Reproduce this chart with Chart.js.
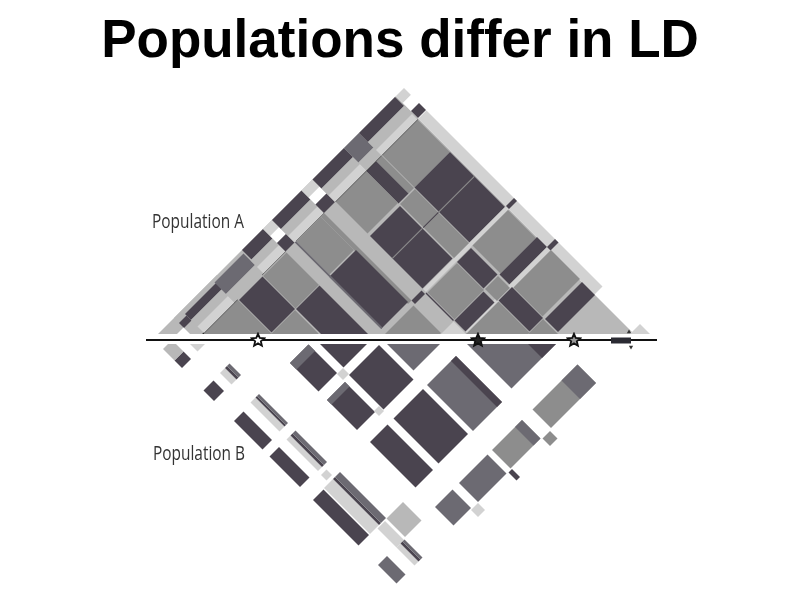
<!DOCTYPE html>
<html>
<head>
<meta charset="utf-8">
<title>Populations differ in LD</title>
<script src="https://cdn.jsdelivr.net/npm/chart.js@4"></script>
<style>
  html, body { margin: 0; padding: 0; background: #fff; }
  #wrap { width: 800px; height: 600px; }
</style>
</head>
<body>
<div id="wrap"><canvas id="ldChart" width="800" height="600"></canvas></div>
<script>
// LD levels, 0 = none ... 6 = strongest
const ldColors = ['#ffffff', '#d2d2d2', '#b8b8b8', '#8d8d8d', '#6c6a72', '#4a444f', '#1c1c1c'];

// blocks are [markerFrom, markerTo, pairedFrom, pairedTo, ldLevel] in map position
const blocksA = [
  [158, 630, 158, 634, 2], [203, 555, 634, 650, 1], [630, 650, 630, 650, 1],
  // right part
  [203, 268, 561, 632, 3], [268, 378, 561, 632, 5], [316, 317.5, 561, 632, 3], [378, 384, 468, 634, 1],
  [384, 440, 561, 632, 3], [440, 460, 559, 634, 5], [460, 467, 468, 634, 1], [467, 525, 560, 635, 3], [530, 556, 560, 634, 5],
  [203, 268, 549, 560, 3], [203, 268, 529, 549, 5], [270, 378, 530, 560, 3], [316, 317.5, 530, 560, 5],
  [385, 438, 529, 557, 5], [440, 464, 530, 556, 3], [465, 527, 532, 559, 5], [528, 558, 528, 558, 3],
  [203, 267, 468, 529, 3], [272, 377, 468, 528, 5], [316, 317.5, 468, 528, 3],
  [386, 440, 469, 528, 3], [441, 463, 468, 526, 5], [466, 528, 466, 531, 3],
  [203, 378, 445, 467, 2], [385, 440, 442, 466, 2], [385, 440, 466, 468, 5], [441, 466, 441, 466, 1],
  [378, 385, 445, 465, 5], [204, 378, 438, 445, 3],
  [204, 270, 389, 438, 3], [272, 376, 386, 440, 5], [203, 376, 386, 389, 4], [203, 378, 368, 386, 2],
  [205, 270, 321, 368, 3], [271, 368, 321, 368, 5], [205, 270, 273, 320, 5], [271, 318, 271, 319, 3],
  [203, 272, 203, 272, 3], [385, 440, 385, 442, 3],
  // thin black line
  [202, 203.5, 203, 272, 6], [202, 203.5, 321, 368, 6], [202, 203.5, 389, 445, 6], [202, 203.5, 468, 560, 6], [202, 203.5, 561, 632, 6],
  // left stripes
  [158, 165, 190, 276, 2], [165, 177, 205, 276, 5], [168, 178, 190, 205, 5], [177, 190, 177, 190, 0],
  [177, 190, 205, 266, 2], [190, 203, 205, 266, 1],
  [163, 186, 266, 324, 4], [186, 203, 266, 324, 2],
  [158, 177, 326, 368, 5], [177, 190, 324, 368, 2], [190, 203, 324, 368, 1],
  [158, 172, 368, 386, 1], [172, 186, 368, 386, 0], [186, 203, 368, 386, 5],
  [158, 176, 386, 445, 5], [176, 190, 386, 445, 2], [190, 203, 386, 445, 1],
  [158, 172, 445, 467, 1], [172, 186, 445, 467, 0], [186, 203, 445, 467, 5],
  [158, 176, 467, 530, 5], [176, 190, 467, 530, 2], [190, 203, 467, 530, 1],
  [158, 187, 530, 560, 4], [187, 203, 530, 560, 2],
  [158, 176, 560, 632, 5], [176, 192, 560, 632, 2], [192, 203, 560, 632, 1],
  [158, 172, 634, 650, 1], [172, 188, 634, 650, 0], [188, 202, 634, 650, 5],
  [378, 384, 634, 650, 5], [460, 467, 634, 650, 5]
];

const blocksB = [
  [320, 367, 320, 367, 5], [271, 308, 309, 366, 5], [271, 308, 309, 322, 4], [307, 319, 367, 379, 1],
  [318, 378, 380, 449, 5], [271, 307, 383, 443, 5], [271, 307, 383, 392, 4], [307, 317, 441, 451, 1],
  [467, 556, 467, 556, 4], [528, 556, 528, 556, 5], [387, 440, 387, 440, 4],
  [386, 444, 468, 560, 4], [434, 444, 468, 560, 5], [319, 378, 468, 558, 5], [272, 307, 468, 559, 5],
  [467, 557, 598, 635, 3], [525, 557, 598, 635, 4], [386, 446, 598, 635, 3], [432, 446, 598, 635, 4],
  [448, 463, 637, 652, 3], [320, 377, 598, 636, 4], [380, 387, 637, 653, 5],
  [272, 307, 598, 635, 4], [305, 319, 637, 651, 1],
  [212, 245, 561, 598, 2], [157, 175, 599, 636, 4],
  [193, 208, 562, 600, 1], [193, 201, 600, 636, 1], [201, 205, 600, 636, 5], [205, 209, 600, 636, 4],
  [157, 178, 469, 560, 5], [180, 198, 468, 560, 1], [198, 202, 468, 560, 5], [202, 212, 468, 560, 4], [190, 201, 452, 463, 1],
  [157, 176, 382, 443, 5], [191, 199, 382, 445, 1], [199, 203, 382, 445, 5], [203, 209, 382, 445, 4],
  [157, 176, 311, 368, 5], [192, 202, 309, 367, 1], [202, 205, 309, 367, 5], [205, 209, 309, 367, 4],
  [157, 177, 250, 271, 5], [191, 201, 249, 272, 1], [201, 205, 249, 272, 5], [205, 210, 249, 272, 4],
  [158, 176, 191, 206, 5], [158, 176, 168, 191, 2], [190, 205, 190, 205, 1]
];

const baselineA = 334;
const baselineB = 344;

const mapLine = [146, 657];
const geneBar = [611, 631];
const starPositions = [258, 478, 574];
const starFills = ['#ffffff', '#222222', '#9a9a9a'];
const tickMarks = [[629, 332, 0], [631, 347, 180]];

const chartTitle = 'Populations differ in LD';
const populationLabels = ['Population A', 'Population B'];

// a block of the matrix, turned 45 degrees and cut off at the map line
function blockOutline(b, base, dir) {
  const [u1, u2, v1, v2] = b;
  let pairs;
  if (v1 >= u2) pairs = [[u1, v2], [u2, v2], [u2, v1], [u1, v1]];
  else pairs = [[u1, v2], [u2, v2], [u2, u2], [v1, v1], [u1, v1]];
  const pts = pairs.map(([u, v]) => ({ x: (u + v) / 2, y: base + dir * (v - u) / 2 }));
  pts.push(pts[0]);
  return pts;
}

function blockDataset(b, base, dir) {
  return {
    data: blockOutline(b, base, dir),
    showLine: true,
    fill: 'shape',
    borderWidth: 0,
    pointRadius: 0,
    backgroundColor: ldColors[b[4]]
  };
}

function starImage(fill) {
  const c = document.createElement('canvas');
  c.width = 16; c.height = 16;
  const g = c.getContext('2d');
  g.beginPath();
  for (let i = 0; i < 10; i++) {
    const r = i % 2 ? 3 : 6.6;
    const a = -Math.PI / 2 + i * Math.PI / 5;
    g.lineTo(8 + r * Math.cos(a), 8.4 + r * Math.sin(a));
  }
  g.closePath();
  g.fillStyle = fill;
  g.fill();
  g.lineWidth = 1.8;
  g.strokeStyle = '#111';
  g.stroke();
  return c;
}

const markDatasets = [
  {
    data: starPositions.map(x => ({ x: x, y: 340 })),
    pointStyle: starFills.map(starImage),
    pointRadius: 8,
    showLine: false
  },
  {
    data: tickMarks.map(t => ({ x: t[0], y: t[1] })),
    pointStyle: 'triangle',
    rotation: tickMarks.map(t => t[2]),
    pointRadius: 2.5,
    pointBackgroundColor: '#333333',
    pointBorderWidth: 0,
    showLine: false
  },
  {
    data: geneBar.map(x => ({ x: x, y: 340.5 })),
    showLine: true, borderColor: '#2a2a32', borderWidth: 6, pointRadius: 0, borderCapStyle: 'butt'
  },
  {
    data: mapLine.map(x => ({ x: x, y: 340 })),
    showLine: true, borderColor: '#111111', borderWidth: 2, pointRadius: 0
  }
];

const blockDatasets = blocksA.map(b => blockDataset(b, baselineA, -1))
  .concat(blocksB.map(b => blockDataset(b, baselineB, 1)))
  .reverse(); // first dataset is painted last

const populationText = {
  id: 'populationText',
  afterDatasetsDraw(chart) {
    const { ctx, scales } = chart;
    ctx.save();
    ctx.fillStyle = '#333333';
    ctx.font = '20px "Open Sans"';
    ctx.textBaseline = 'alphabetic';
    ctx.fillText(populationLabels[0], scales.x.getPixelForValue(152), scales.y.getPixelForValue(228), 92);
    ctx.fillText(populationLabels[1], scales.x.getPixelForValue(153), scales.y.getPixelForValue(460), 92);
    ctx.restore();
  }
};

new Chart(document.getElementById('ldChart'), {
  type: 'scatter',
  data: { datasets: markDatasets.concat(blockDatasets) },
  plugins: [populationText],
  options: {
    responsive: false,
    animation: false,
    events: [],
    layout: { padding: 0, autoPadding: false },
    scales: {
      x: { type: 'linear', min: 0, max: 800, display: false },
      y: { type: 'linear', min: 80, max: 600, reverse: true, display: false }
    },
    plugins: {
      legend: { display: false },
      tooltip: { enabled: false },
      title: {
        display: true,
        text: chartTitle,
        color: '#000000',
        font: { family: '"Liberation Sans"', size: 53, weight: 'bold', lineHeight: 1.2 },
        padding: { top: 11, bottom: 5.4 }
      }
    }
  }
});
</script>
</body>
</html>
